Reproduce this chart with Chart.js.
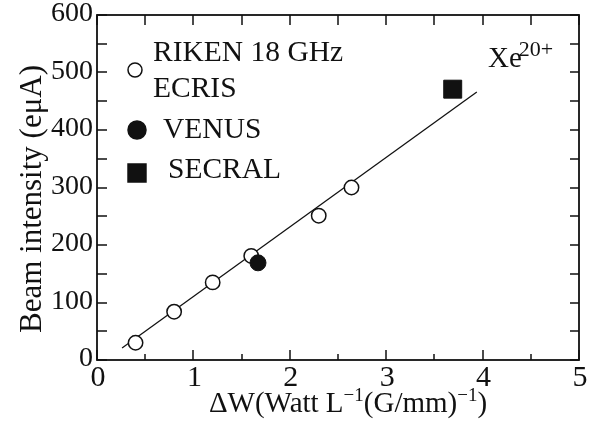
<!DOCTYPE html>
<html>
<head>
<meta charset="utf-8">
<script src="https://cdn.jsdelivr.net/npm/chart.js@4"></script>
<style>
  html, body { margin: 0; padding: 0; background: #fff; }
  #wrap { width: 597px; height: 429px; }
  .warm { font-family: "Liberation Serif"; position: absolute; left: -999px; top: 0; font-size: 20px; }
</style>
</head>
<body>
<div class="warm">Xe 0123456789 ΔWμ</div>
<div id="wrap"><canvas id="chart" width="597" height="429"></canvas></div>
<script>
// data
const rikenX = [0.40, 0.80, 1.20, 1.60, 2.30, 2.64];
const rikenY = [30, 84, 135, 181, 251, 300];
const venusX = [1.67];
const venusY = [169];
const secralX = [3.69];
const secralY = [471];
const fitX = [0.26, 3.94];
const fitY = [21, 466];

const xTicks = [0, 1, 2, 3, 4, 5];
const yTicks = [0, 100, 200, 300, 400, 500, 600];

const FONT = '"Liberation Serif", serif';
const INK = '#111';

const pts = (xs, ys) => xs.map((x, i) => ({ x: x, y: ys[i] }));

// frame, inward ticks, labels, legend
const decor = {
    id: 'decor',
    afterDraw(chart) {
        const ctx = chart.ctx;
        const a = chart.chartArea;
        const sx = chart.scales.x, sy = chart.scales.y;
        ctx.save();
        ctx.strokeStyle = INK;
        ctx.lineWidth = 1.8;
        ctx.strokeRect(a.left, a.top, a.right - a.left, a.bottom - a.top);

        ctx.lineWidth = 1.5;
        ctx.beginPath();
        for (let v = 0; v <= 5.001; v += 0.5) {
            const px = Math.round(sx.getPixelForValue(v));
            const major = Math.abs(v - Math.round(v)) < 1e-6;
            ctx.moveTo(px, a.bottom); ctx.lineTo(px, a.bottom - (major ? 10 : 6));
            ctx.moveTo(px, a.top); ctx.lineTo(px, a.top + 10);
        }
        for (let v = 0; v <= 600; v += 50) {
            const py = Math.round(sy.getPixelForValue(v));
            ctx.moveTo(a.left, py); ctx.lineTo(a.left + 10, py);
            ctx.moveTo(a.right, py); ctx.lineTo(a.right - 9, py);
        }
        ctx.stroke();

        ctx.fillStyle = INK;
        ctx.font = '30px ' + FONT;
        ctx.textAlign = 'center';
        ctx.textBaseline = 'alphabetic';
        xTicks.forEach(v => ctx.fillText(String(v), sx.getPixelForValue(v) + 1, 386));
        ctx.font = '28px ' + FONT;
        ctx.textAlign = 'right';
        ctx.textBaseline = 'middle';
        yTicks.forEach(v => ctx.fillText(String(v), 93, sy.getPixelForValue(v) - 1));

        // x title with superscripts
        ctx.textAlign = 'left';
        ctx.textBaseline = 'alphabetic';
        const parts = [
            ['\u0394W(Watt L', 29, 0],
            ['\u22121', 19, -11],
            ['(G/mm)', 29, 0],
            ['\u22121', 19, -11],
            [')', 29, 0]
        ];
        let total = 0;
        parts.forEach(p => { ctx.font = p[1] + 'px ' + FONT; total += ctx.measureText(p[0]).width; });
        let cx = 348 - total / 2;
        parts.forEach(p => {
            ctx.font = p[1] + 'px ' + FONT;
            ctx.fillText(p[0], cx, 412 + p[2]);
            cx += ctx.measureText(p[0]).width;
        });

        // y title
        ctx.save();
        ctx.translate(41, 199);
        ctx.rotate(-Math.PI / 2);
        ctx.font = '31px ' + FONT;
        ctx.textAlign = 'center';
        ctx.fillText('Beam intensity (e\u03bcA)', 0, 0);
        ctx.restore();

        // legend
        const h = Chart.helpers;
        ctx.lineWidth = 1.5;
        ctx.strokeStyle = INK;
        ctx.fillStyle = '#fff';
        h.drawPoint(ctx, { pointStyle: 'circle', radius: 7, borderWidth: 1.5 }, 135, 70);
        ctx.fillStyle = INK;
        h.drawPoint(ctx, { pointStyle: 'circle', radius: 9, borderWidth: 1 }, 137, 130);
        h.drawPoint(ctx, { pointStyle: 'rect', radius: 12.7, borderWidth: 1 }, 137, 173);

        ctx.fillStyle = INK;
        ctx.font = '29.5px ' + FONT;
        ctx.textAlign = 'left';
        ctx.fillText('RIKEN 18 GHz', 153, 61);
        ctx.fillText('ECRIS', 153, 97);
        ctx.fillText('VENUS', 163, 138);
        ctx.fillText('SECRAL', 168, 178);

        ctx.font = '29px ' + FONT;
        ctx.fillText('Xe', 488, 67);
        const xw = ctx.measureText('Xe').width;
        ctx.font = '22px ' + FONT;
        ctx.fillText('20+', 488 + xw - 3, 56);
        ctx.restore();
    }
};

function build() {
    new Chart(document.getElementById('chart'), {
        type: 'scatter',
        data: {
            datasets: [
                {
                    label: 'SECRAL',
                    data: pts(secralX, secralY),
                    pointStyle: 'rect',
                    pointRadius: 12.7,
                    backgroundColor: INK,
                    borderColor: INK,
                    borderWidth: 1,
                    order: 0
                },
                {
                    label: 'VENUS',
                    data: pts(venusX, venusY),
                    pointStyle: 'circle',
                    pointRadius: 8,
                    backgroundColor: INK,
                    borderColor: INK,
                    borderWidth: 1,
                    order: 1
                },
                {
                    label: 'RIKEN 18 GHz ECRIS',
                    data: pts(rikenX, rikenY),
                    pointStyle: 'circle',
                    pointRadius: 7.2,
                    backgroundColor: '#fff',
                    borderColor: INK,
                    borderWidth: 1.5,
                    order: 2
                },
                {
                    label: 'fit',
                    data: pts(fitX, fitY),
                    showLine: true,
                    pointRadius: 0,
                    borderColor: INK,
                    borderWidth: 1.3,
                    order: 3
                }
            ]
        },
        options: {
            responsive: false,
            animation: false,
            devicePixelRatio: 1,
            layout: { padding: { left: 97, right: 18, top: 15, bottom: 69 } },
            scales: {
                x: { type: 'linear', min: 0, max: 5, display: false },
                y: { type: 'linear', min: 0, max: 600, display: false }
            },
            plugins: {
                legend: { display: false },
                tooltip: { enabled: false }
            }
        },
        plugins: [decor]
    });
}

if (document.fonts && document.fonts.load) {
    document.fonts.load('26px "Liberation Serif"').then(build, build);
} else {
    build();
}
</script>
</body>
</html>
